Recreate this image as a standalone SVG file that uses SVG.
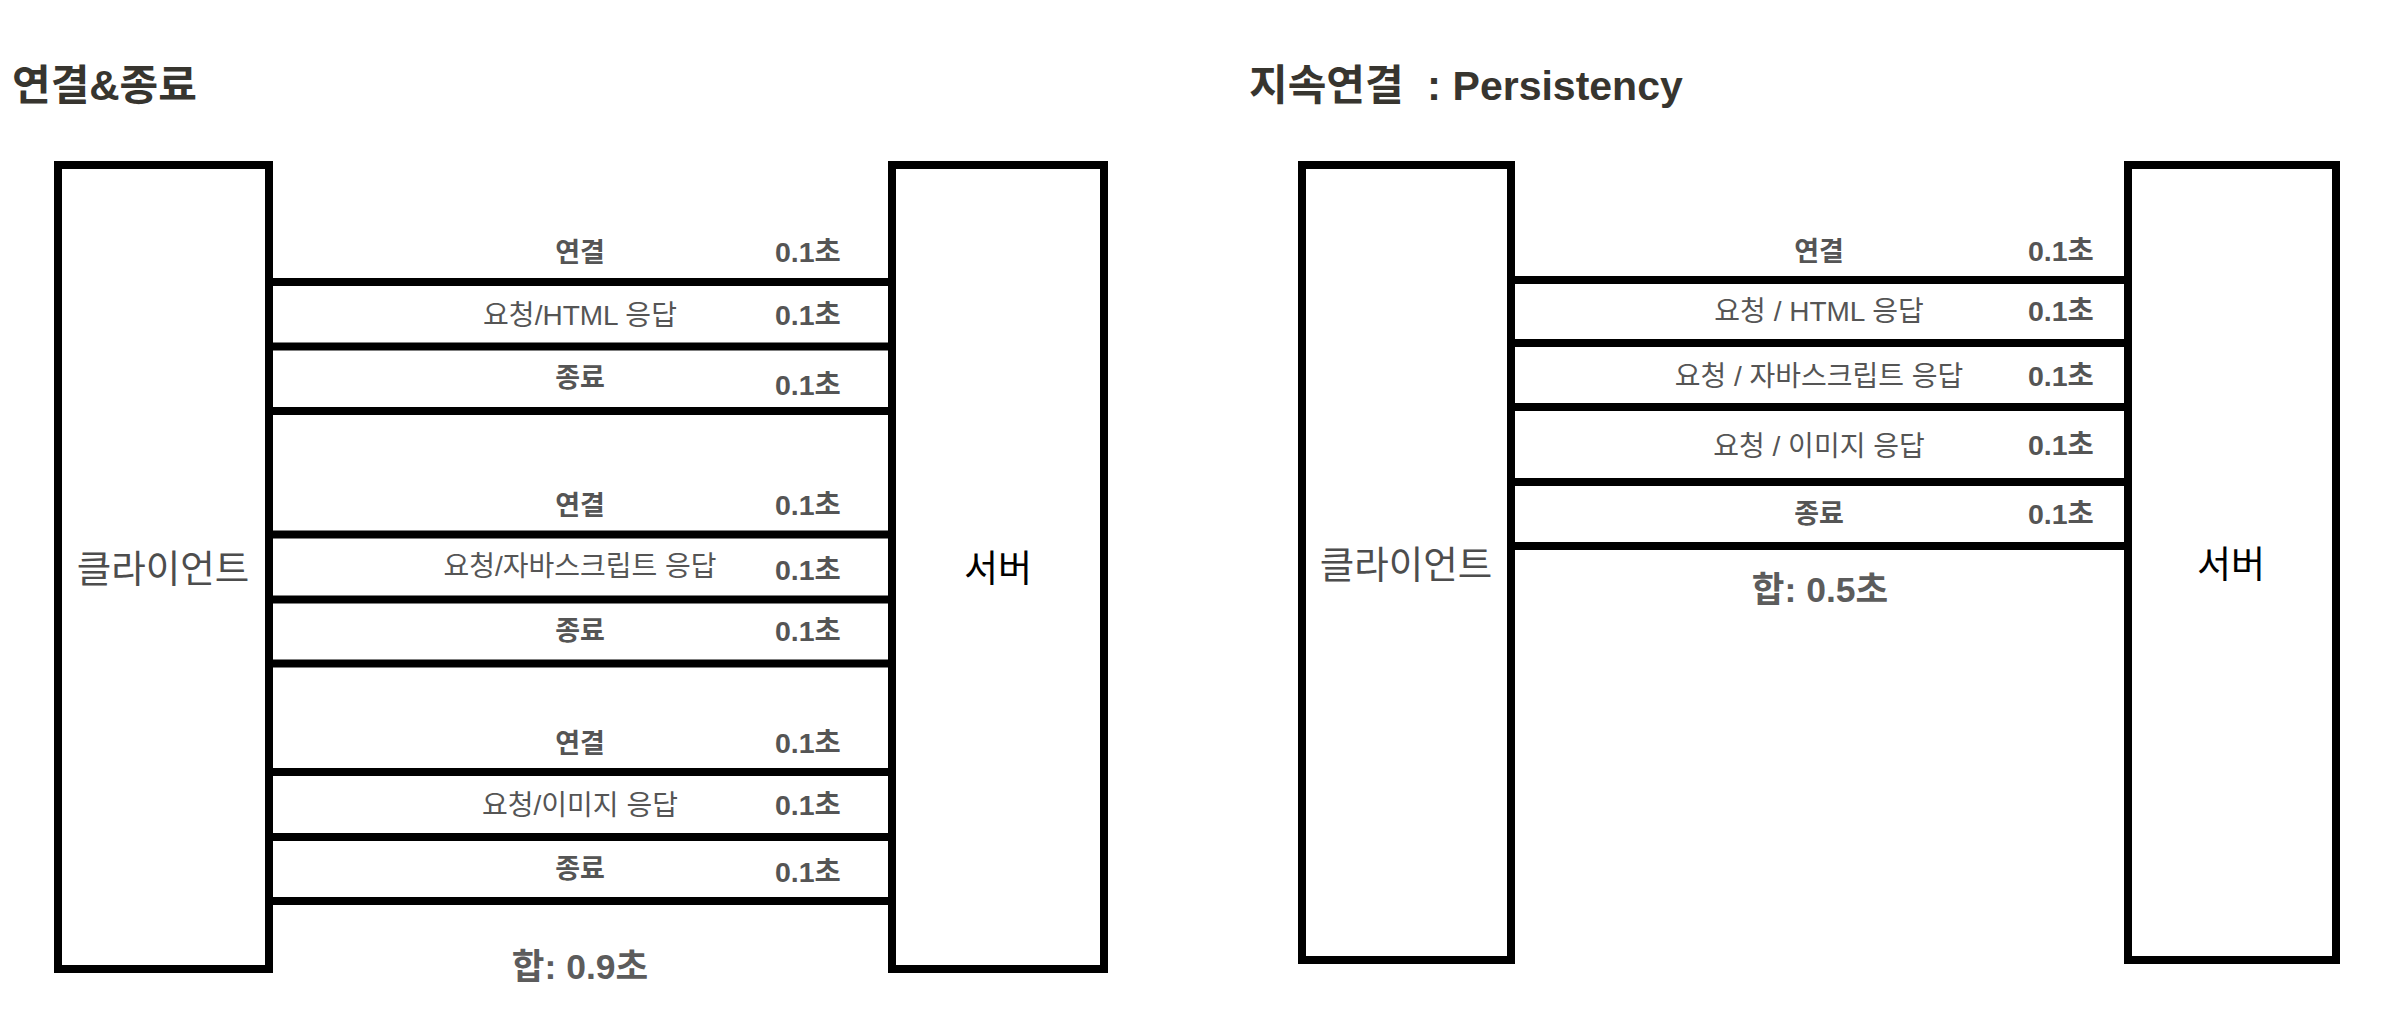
<svg xmlns="http://www.w3.org/2000/svg" width="2392" height="1028" viewBox="0 0 2392 1028">
<style>
text{font-family:"Liberation Sans","Noto Sans CJK KR",sans-serif}
.title{font-size:42px;font-weight:bold;fill:#37352f;white-space:pre}
.box{fill:#fff;stroke:#000;stroke-width:8}
.ln{stroke:#000;stroke-width:8;fill:none}
.lb{font-size:27px;font-weight:bold;fill:#555;text-anchor:middle}
.ln2{font-size:28px;fill:#555;text-anchor:middle}
.t{font-size:28.5px;font-weight:bold;fill:#555}
.sum{font-size:35.5px;font-weight:bold;fill:#5c5c5c;text-anchor:middle}
.cl{font-size:37.5px;fill:#4d4d4d;text-anchor:middle}
.sv{font-size:37px;fill:#000;text-anchor:middle}
</style>
<rect width="2392" height="1028" fill="#fff"/>
<text class="title" x="12" y="100">연결&amp;종료</text>
<text class="title" x="1249" y="100">지속연결  : <tspan font-size="41">Persistency</tspan></text>

<g id="left-client"><rect class="box" x="58" y="165" width="211" height="804"/><text class="cl" x="163" y="582">클라이언트</text></g>
<g id="left-server"><rect class="box" x="892" y="165" width="212" height="804"/><text class="sv" x="998" y="582">서버</text></g>
<g id="right-client"><rect class="box" x="1302" y="165" width="209" height="795"/><text class="cl" x="1406" y="578">클라이언트</text></g>
<g id="right-server"><rect class="box" x="2128" y="165" width="208" height="795"/><text class="sv" x="2231" y="578">서버</text></g>

<g id="connectors">
<line class="ln" x1="269" y1="282" x2="892" y2="282"/>
<line class="ln" x1="269" y1="346.5" x2="892" y2="346.5"/>
<line class="ln" x1="269" y1="411" x2="892" y2="411"/>
<line class="ln" x1="269" y1="534.5" x2="892" y2="534.5"/>
<line class="ln" x1="269" y1="599.5" x2="892" y2="599.5"/>
<line class="ln" x1="269" y1="663.5" x2="892" y2="663.5"/>
<line class="ln" x1="269" y1="772" x2="892" y2="772"/>
<line class="ln" x1="269" y1="837" x2="892" y2="837"/>
<line class="ln" x1="269" y1="901" x2="892" y2="901"/>
<line class="ln" x1="1511" y1="280" x2="2128" y2="280"/>
<line class="ln" x1="1511" y1="343" x2="2128" y2="343"/>
<line class="ln" x1="1511" y1="407" x2="2128" y2="407"/>
<line class="ln" x1="1511" y1="482" x2="2128" y2="482"/>
<line class="ln" x1="1511" y1="546" x2="2128" y2="546"/>
</g>

<g id="left-labels">
<text class="lb" x="580" y="262">연결</text><text class="t" x="775" y="262">0.1초</text>
<text class="ln2" x="580" y="325">요청/HTML 응답</text><text class="t" x="775" y="325">0.1초</text>
<text class="lb" x="580" y="387">종료</text><text class="t" x="775" y="395">0.1초</text>
<text class="lb" x="580" y="515">연결</text><text class="t" x="775" y="515">0.1초</text>
<text class="ln2" x="580" y="576">요청/자바스크립트 응답</text><text class="t" x="775" y="580">0.1초</text>
<text class="lb" x="580" y="640">종료</text><text class="t" x="775" y="641">0.1초</text>
<text class="lb" x="580" y="753">연결</text><text class="t" x="775" y="753">0.1초</text>
<text class="ln2" x="580" y="815">요청/이미지 응답</text><text class="t" x="775" y="815">0.1초</text>
<text class="lb" x="580" y="878">종료</text><text class="t" x="775" y="882">0.1초</text>
<text class="sum" x="580" y="979">합: 0.9초</text>
</g>

<g id="right-labels">
<text class="lb" x="1819" y="261">연결</text><text class="t" x="2028" y="261">0.1초</text>
<text class="ln2" x="1819" y="321">요청 / HTML 응답</text><text class="t" x="2028" y="321">0.1초</text>
<text class="ln2" x="1819" y="386">요청 / 자바스크립트 응답</text><text class="t" x="2028" y="386">0.1초</text>
<text class="ln2" x="1819" y="456">요청 / 이미지 응답</text><text class="t" x="2028" y="455">0.1초</text>
<text class="lb" x="1819" y="523">종료</text><text class="t" x="2028" y="524">0.1초</text>
<text class="sum" x="1820" y="602">합: 0.5초</text>
</g>
</svg>
